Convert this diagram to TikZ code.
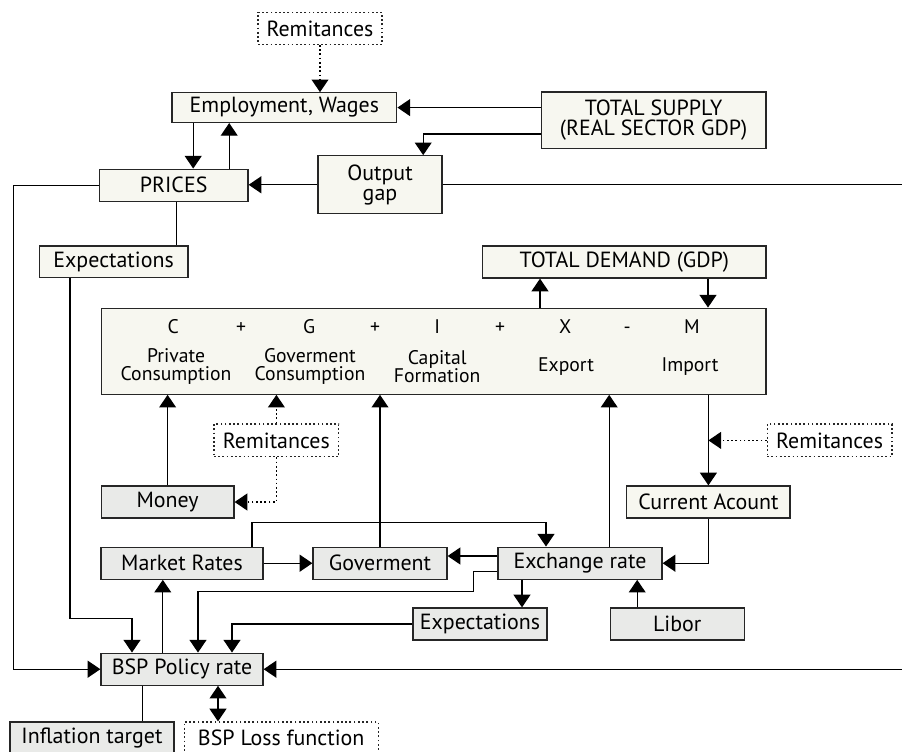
\documentclass[tikz,border=0pt]{standalone}
\usepackage{fontspec}
\setsansfont{PT Sans}
\usepackage{xcolor}
\usepackage{tikz}
\usetikzlibrary{arrows.meta, positioning, calc}

\definecolor{realfill}{HTML}{F7F7F0}
\definecolor{policyfill}{HTML}{E9EAE8}

\begin{document}
\begin{tikzpicture}[
    font=\sffamily\fontsize{15.6}{14.5}\selectfont,
    line width=0.9pt,
    block/.style={
        draw=black!85,
        align=center,
        inner sep=2pt,
        minimum height=0.8cm
    },
    real/.style={block, fill=realfill},
    policy/.style={block, fill=policyfill},
    remit/.style={block, fill=white, dash pattern=on 1.2pt off 1.8pt},
    term/.style={anchor=base, font=\sffamily\fontsize{14}{13}\selectfont},
    part/.style={align=center, inner sep=0pt, font=\sffamily\fontsize{14}{13}\selectfont},
    link/.style={-{Triangle[length=9pt, width=12pt]}},
    twolink/.style={{Triangle[length=9pt, width=12pt]}-{Triangle[length=9pt, width=12pt]}},
    remitlink/.style={link, dash pattern=on 1.2pt off 1.8pt}
]

\path[use as bounding box, clip] (0,0) rectangle (22.55,-18.8);
\coordinate (rim) at (22.6,0);
\coordinate (leftrim) at (0.33,0);

% Supply side
\node[remit, minimum width=3.1cm] (remtop) at (8.0,-0.71) {Remitances};
\node[real, minimum width=5.62cm, minimum height=0.74cm] (emp) at (7.11,-2.69) {Employment, Wages};
\node[real, minimum width=5.62cm, minimum height=1.42cm, inner sep=0pt] (supply) at (16.34,-3.01) {TOTAL SUPPLY\\(REAL SECTOR GDP)};
\node[real, minimum width=3.1cm, minimum height=1.45cm, inner sep=0pt] (gap) at (9.5,-4.62) {Output\\gap};
\node[real, minimum width=3.72cm] (prices) at (4.34,-4.63) {PRICES};
\node[real, minimum width=3.72cm, minimum height=0.78cm] (exptop) at (2.84,-6.54) {Expectations};

% Demand block
\node[real, minimum width=7.08cm] (demand) at (15.61,-6.55) {TOTAL DEMAND (GDP)};
\node[real, minimum width=16.62cm, minimum height=2.15cm] (gdp) at (10.84,-8.78) {};
\foreach \t/\x [count=\i] in {C/4.33, +/6.03, G/7.73, +/9.38, I/10.93, +/12.5, X/14.13, -/15.68, M/17.3} {
    \node[term] (term\i) at (\x,-8.33) {\t};
}
\foreach \t/\x/\n in {Private\\Consumption/4.4/priv, Goverment\\Consumption/7.75/govc, Capital\\Formation/10.93/capf, Export/14.15/expo, Import/17.25/impo} {
    \node[part] (\n) at (\x,-9.16) {\t};
}

% Monetary side
\node[remit, minimum width=3.12cm, minimum height=0.82cm] (remmid) at (6.91,-11.01) {Remitances};
\node[remit, minimum width=3.12cm, minimum height=0.82cm] (remright) at (20.74,-11.01) {Remitances};
\node[policy, minimum width=3.32cm] (money) at (4.19,-12.55) {Money};
\node[real, minimum width=4.08cm] (current) at (17.71,-12.55) {Current Acount};
\node[policy, minimum width=4.05cm] (market) at (4.55,-14.08) {Market Rates};
\node[policy, minimum width=3.35cm] (gov) at (9.5,-14.08) {Goverment};
\node[policy, minimum width=4.1cm] (exch) at (14.5,-14.08) {Exchange rate};
\node[policy, minimum width=3.35cm] (explow) at (12.0,-15.6) {Expectations};
\node[policy, minimum width=3.35cm] (libor) at (16.93,-15.6) {Libor};
\node[policy, minimum width=4.05cm] (bsp) at (4.55,-16.73) {BSP Policy rate};
\node[policy, minimum width=4.1cm] (infl) at (2.3,-18.45) {Inflation target};
\node[remit, minimum width=4.85cm] (loss) at (7.03,-18.45) {BSP Loss function};

% Supply connections
\draw[remitlink] (remtop.south) -- (remtop.south |- emp.north);
\draw[link] (supply.west |- emp.east) -- (emp.east);
\draw[link] ([yshift=-0.34cm]supply.west) -| ([xshift=1.08cm]gap.north);
\draw[link] ([xshift=0.49cm]prices.north |- emp.south) -- ([xshift=0.49cm]prices.north);
\draw[link] ([xshift=1.39cm]prices.north) -- ([xshift=1.39cm]prices.north |- emp.south);
\draw[link] (gap.west) -- (gap.west -| prices.east);
\draw (gap.east) -- (gap.east -| rim);
\draw[link] (prices.west) -- (prices.west -| leftrim) |- (bsp.west);
\draw ([xshift=0.08cm]prices.south) -- ([xshift=0.08cm]prices.south |- exptop.north);
\draw[link] ([xshift=-1.09cm]exptop.south) |- ([xshift=-1.25cm, yshift=0.86cm]bsp.north) -- ([xshift=-1.25cm]bsp.north);

% Demand connections
\draw[link] ([xshift=-2.11cm]demand.south |- gdp.north) -- ([xshift=-2.11cm]demand.south);
\draw[link] ([xshift=2.09cm]demand.south) -- ([xshift=2.09cm]demand.south |- gdp.north);
\draw[link] (money.north) -- (money.north |- gdp.south);
\draw[remitlink] (remmid.north) -- (remmid.north |- gdp.south);
\draw[remitlink] (remmid.south) |- (money.east);
\draw[link] (gov.north) -- (gov.north |- gdp.south);
\draw[link] ([xshift=0.73cm]exch.north) -- ([xshift=0.73cm]exch.north |- gdp.south);
\draw[link] (current.north |- gdp.south) -- (current.north);
\draw[remitlink] (remright.west) -- (remright.west -| current.north);

% Monetary connections
\draw[link] (current.south) |- (exch.east);
\draw[link] ([xshift=-1cm]libor.north) -- ([xshift=-1cm]libor.north |- exch.south);
\draw[link] ([xshift=-1.45cm]exch.south) -- ([xshift=-1.45cm]exch.south |- explow.north);
\draw[link] ([yshift=0.18cm]exch.west) -- ([yshift=0.18cm]exch.west -| gov.east);
\draw[link] (market.east) -- (gov.west);
\draw[link] ([xshift=1.75cm]market.north) |- ([xshift=-0.85cm, yshift=0.6cm]exch.north) -- ([xshift=-0.85cm]exch.north);
\draw[link] ([yshift=-0.2cm]exch.west) -- ++(-0.6,0) |- ([xshift=0.4cm, yshift=1.53cm]bsp.north) -- ([xshift=0.4cm]bsp.north);
\draw[link] (explow.west) -| ([xshift=1.25cm]bsp.north);
\draw[link] ([xshift=-0.48cm]bsp.north) -- ([xshift=-0.48cm]bsp.north |- market.south);
\draw[link] (bsp.east -| rim) -- (bsp.east);
\draw ([xshift=-0.98cm]bsp.south) -- ([xshift=-0.98cm]bsp.south |- infl.north);
\draw[twolink] ([xshift=0.9cm]bsp.south) -- ([xshift=0.9cm]bsp.south |- loss.north);

\end{tikzpicture}
\end{document}
